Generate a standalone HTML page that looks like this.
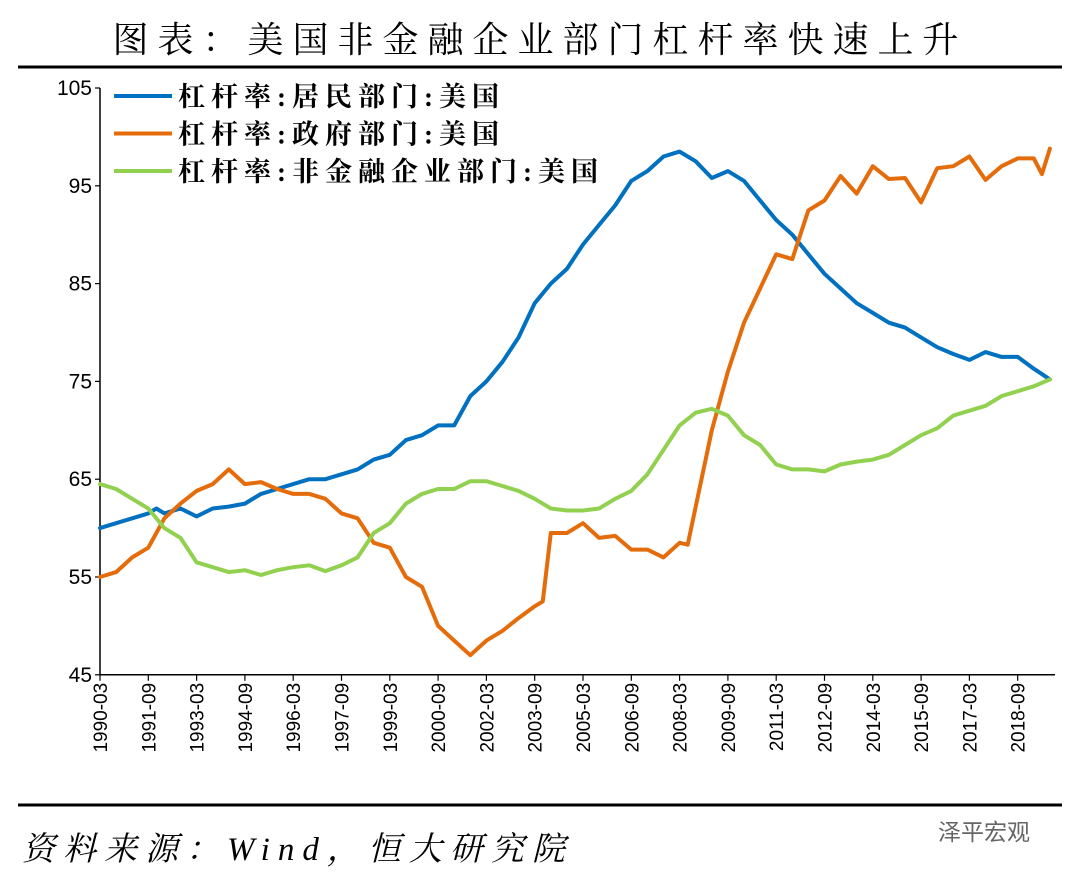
<!DOCTYPE html>
<html><head><meta charset="utf-8"><style>
body{margin:0;background:#fff;width:1080px;height:881px;overflow:hidden;font-family:"Liberation Serif","Noto Serif CJK SC",serif}
</style></head><body>
<svg width="1080" height="881" xmlns="http://www.w3.org/2000/svg">
<text x="540" y="52" text-anchor="middle" font-size="36" letter-spacing="9" font-family="Liberation Serif, Noto Serif CJK SC, serif">图表：美国非金融企业部门杠杆率快速上升</text>
<line x1="18" y1="67" x2="1062" y2="67" stroke="#000" stroke-width="3"/>
<line x1="18" y1="805" x2="1062" y2="805" stroke="#000" stroke-width="3"/>
<text x="22" y="860" font-size="33" letter-spacing="8" font-style="italic" font-family="Liberation Serif, Noto Serif CJK SC, serif">资料来源：Wind，恒大研究院</text>
<text x="938" y="840" font-size="23" fill="#666" font-family="Liberation Sans, Noto Sans CJK SC, sans-serif">泽平宏观</text>
<g id="axes"></g>
<g id="series"></g>
<g id="legend"></g>
</svg>
<script>
const yTicks=[45,55,65,75,85,95,105];
const xLabels=["1990-03","1991-09","1993-03","1994-09","1996-03","1997-09","1999-03","2000-09","2002-03","2003-09","2005-03","2006-09","2008-03","2009-09","2011-03","2012-09","2014-03","2015-09","2017-03","2018-09"];
const seriesNames=["杠杆率:居民部门:美国","杠杆率:政府部门:美国","杠杆率:非金融企业部门:美国"];
const household=[[0,60],[2,60.5],[4,61],[6,61.5],[7,62],[8,61.5],[10,62],[12,61.2],[14,62],[16,62.2],[18,62.5],[20,63.5],[22,64],[24,64.5],[26,65],[28,65],[30,65.5],[32,66],[34,67],[36,67.5],[38,69],[40,69.5],[42,70.5],[44,70.5],[46,73.5],[48,75],[50,77],[52,79.5],[54,83],[56,85],[58,86.5],[60,89],[62,91],[64,93],[66,95.5],[68,96.5],[70,98],[72,98.5],[74,97.5],[76,95.8],[78,96.5],[80,95.5],[82,93.5],[84,91.5],[86,90],[88,88],[90,86],[92,84.5],[94,83],[96,82],[98,81],[100,80.5],[102,79.5],[104,78.5],[106,77.8],[108,77.2],[110,78],[112,77.5],[114,77.5],[116,76.3],[118,75.2]];
const government=[[0,55],[2,55.5],[4,57],[6,58],[8,61],[10,62.5],[12,63.8],[14,64.5],[16,66],[18,64.5],[20,64.7],[22,64],[24,63.5],[26,63.5],[28,63],[30,61.5],[32,61],[34,58.5],[36,58],[38,55],[40,54],[42,50],[44,48.5],[46,47],[48,48.5],[50,49.5],[52,50.8],[54,52],[55,52.5],[56,59.5],[58,59.5],[60,60.5],[62,59],[64,59.2],[66,57.8],[68,57.8],[70,57],[72,58.5],[73,58.3],[76,70],[78,76],[80,81],[82,84.5],[84,88],[86,87.5],[88,92.5],[90,93.5],[92,96],[94,94.2],[96,97],[98,95.7],[100,95.8],[102,93.3],[104,96.8],[106,97],[108,98],[110,95.6],[112,97],[114,97.8],[116,97.8],[117,96.2],[118,98.8]];
const corporate=[[0,64.5],[2,64],[4,63],[6,62],[8,60],[10,59],[12,56.5],[14,56],[16,55.5],[18,55.7],[20,55.2],[22,55.7],[24,56],[26,56.2],[28,55.6],[30,56.2],[32,57],[34,59.5],[36,60.5],[38,62.5],[40,63.5],[42,64],[44,64],[46,64.8],[48,64.8],[50,64.3],[52,63.8],[54,63],[56,62],[58,61.8],[60,61.8],[62,62],[64,63],[66,63.8],[68,65.5],[70,68],[72,70.5],[74,71.8],[76,72.2],[78,71.5],[80,69.5],[82,68.5],[84,66.5],[86,66],[88,66],[90,65.8],[92,66.5],[94,66.8],[96,67],[98,67.5],[100,68.5],[102,69.5],[104,70.2],[106,71.5],[108,72],[110,72.5],[112,73.5],[114,74],[116,74.5],[118,75.2]];
const colors=["#0070C0","#E46C0A","#92D050"];
const NS="http://www.w3.org/2000/svg";
const X0=100,QW=8.05,Y0=88,YS=9.78;
function xs(i){return X0+i*QW;}
function ys(v){return Y0+(105-v)*YS;}
const axes=document.getElementById('axes');
function mk(tag,attrs,parent){const e=document.createElementNS(NS,tag);for(const k in attrs)e.setAttribute(k,attrs[k]);parent.appendChild(e);return e;}
let ya=mk('line',{x1:X0,y1:Y0,x2:X0,y2:ys(45),stroke:'#000','stroke-width':1.5},axes);


let xa=mk('line',{x1:X0,y1:ys(45),x2:1055,y2:ys(45),stroke:'#000','stroke-width':1.5},axes);


yTicks.forEach(v=>{
 let t=mk('line',{x1:X0-5,y1:ys(v),x2:X0,y2:ys(v),stroke:'#000','stroke-width':1.2},axes);
 
 
 let l=mk('text',{x:X0-8,y:ys(v)+7,'text-anchor':'end','font-size':21,'font-family':'Liberation Sans, sans-serif'},axes);
 l.textContent=v;
 
 
});
xLabels.forEach((s,k)=>{
 const x=xs(k*6);
 let t=mk('line',{x1:x,y1:ys(45),x2:x,y2:ys(45)+6,stroke:'#000','stroke-width':1.2},axes);
 
 
 let l=mk('text',{x:0,y:0,'text-anchor':'end','font-size':19,'font-family':'Liberation Sans, sans-serif',transform:`translate(${x+7},${ys(45)+8}) rotate(-90)`},axes);
 l.textContent=s;
 
 
});
const sg=document.getElementById('series');
[household,government,corporate].forEach((d,si)=>{
 let p=mk('polyline',{points:d.map(q=>xs(q[0]).toFixed(1)+','+ys(q[1]).toFixed(1)).join(' '),fill:'none',stroke:colors[si],'stroke-width':4,'stroke-linejoin':'round','stroke-linecap':'round'},sg);
 
 
});
const lg=document.getElementById('legend');
seriesNames.forEach((n,k)=>{
 const y=96+k*37.5;
 let ln=mk('line',{x1:114,y1:y,x2:172,y2:y,stroke:colors[k],'stroke-width':4},lg);
 
 
 let t=mk('text',{x:178,y:y+10,'font-size':27,'letter-spacing':6,'font-weight':'bold','font-family':'Liberation Serif, Noto Serif CJK SC, serif'},lg);
 t.textContent=n;
 
 
});
</script>
</body></html>
